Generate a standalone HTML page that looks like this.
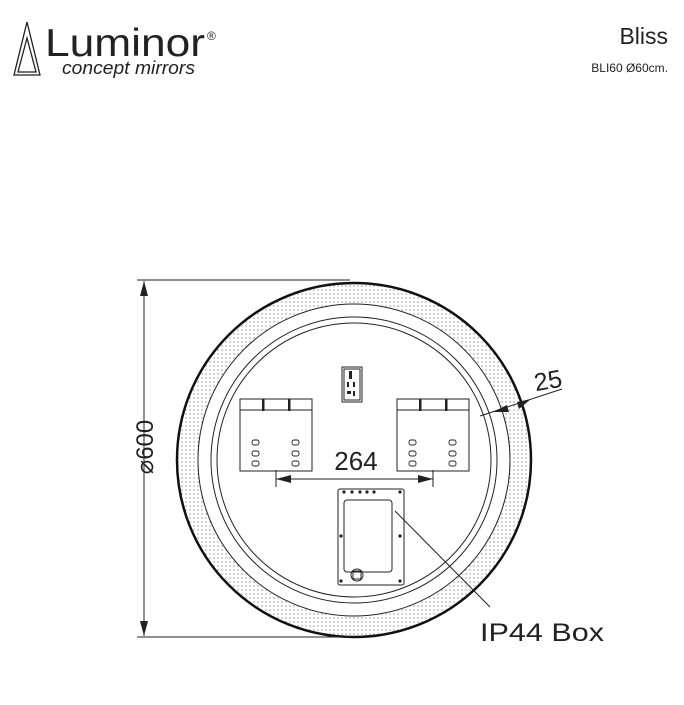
<!DOCTYPE html>
<html><head><style>
body{margin:0;background:#fff;width:684px;height:700px;overflow:hidden}
</style></head><body>
<svg width="684" height="700" xmlns="http://www.w3.org/2000/svg" font-family="Liberation Sans, sans-serif">
<defs>
<pattern id="dots" width="4" height="4" patternUnits="userSpaceOnUse"><circle cx="2" cy="2" r="0.6" fill="#666"/></pattern>
</defs>
<!-- header -->
<g fill="none" stroke="#222" stroke-width="1.3">
<polygon points="27,22 14,75 40,75"/>
<polygon points="27,38 18,72 36,72"/>
</g>
<text x="45" y="56" font-size="39" fill="#222" textLength="160" lengthAdjust="spacingAndGlyphs">Luminor</text>
<text x="207" y="40" font-size="12" fill="#222">®</text>
<text x="62" y="74" font-size="18" font-style="italic" fill="#222" textLength="133" lengthAdjust="spacingAndGlyphs">concept mirrors</text>
<text x="668" y="44" font-size="23" text-anchor="end" fill="#222">Bliss</text>
<text x="668" y="72" font-size="12" text-anchor="end" fill="#222">BLI60 Ø60cm.</text>
<!-- mirror -->
<circle cx="354" cy="460" r="166.5" fill="none" stroke="url(#dots)" stroke-width="21"/>
<circle cx="354" cy="460" r="177" fill="none" stroke="#111" stroke-width="2.5"/>
<circle cx="354" cy="460" r="156" fill="none" stroke="#222" stroke-width="1"/>
<circle cx="354" cy="460" r="143" fill="none" stroke="#222" stroke-width="1"/>
<circle cx="354" cy="460" r="137" fill="none" stroke="#222" stroke-width="1"/>
<!-- dimension 600 -->
<g stroke="#222" stroke-width="1">
<line x1="137" y1="280" x2="350" y2="280"/>
<line x1="137" y1="637" x2="350" y2="637"/>
<line x1="144" y1="281" x2="144" y2="636"/>
</g>
<polygon points="144,281 140,296 148,296" fill="#222"/>
<polygon points="144,636 140,621 148,621" fill="#222"/>
<text transform="translate(153,447) rotate(-90)" font-size="24" text-anchor="middle" fill="#222">⌀600</text>
<!-- brackets -->
<g fill="none" stroke="#222" stroke-width="1">
<rect x="240" y="399" width="72" height="72"/>
<line x1="240" y1="410" x2="312" y2="410"/>
<rect x="397" y="399" width="72" height="72"/>
<line x1="397" y1="410" x2="469" y2="410"/>
<rect x="342" y="367" width="20" height="35"/>
<rect x="344" y="369" width="16" height="31"/>
<rect x="338" y="489" width="66" height="96" rx="2"/>
<rect x="344" y="500" width="48" height="72" rx="3"/>
<rect x="353" y="571" width="8" height="8"/>
<circle cx="357" cy="575" r="6"/>
</g>
<g fill="#222">
<rect x="262" y="399" width="2.5" height="12"/><rect x="288" y="399" width="2.5" height="12"/>
<rect x="419" y="399" width="2.5" height="12"/><rect x="445" y="399" width="2.5" height="12"/>
<rect x="349" y="371" width="3" height="8"/><rect x="347" y="382" width="2" height="5"/><rect x="353" y="382" width="2" height="5"/><rect x="347" y="391" width="4" height="3"/><rect x="353" y="391" width="2" height="5"/>
<circle cx="344" cy="492" r="1.6"/><circle cx="352" cy="492" r="1.6"/><circle cx="360" cy="492" r="1.6"/><circle cx="367" cy="492" r="1.6"/><circle cx="374" cy="492" r="1.6"/><circle cx="400" cy="492" r="1.6"/>
<circle cx="341" cy="536" r="1.6"/><circle cx="400" cy="536" r="1.6"/><circle cx="341" cy="581" r="1.6"/><circle cx="400" cy="581" r="1.6"/>
</g>
<g fill="none" stroke="#222" stroke-width="0.9">
<rect x="252" y="440" width="7" height="5" rx="2"/><rect x="252" y="451" width="7" height="5" rx="2"/><rect x="252" y="461" width="7" height="5" rx="2"/>
<rect x="292" y="440" width="7" height="5" rx="2"/><rect x="292" y="451" width="7" height="5" rx="2"/><rect x="292" y="461" width="7" height="5" rx="2"/>
<rect x="409" y="440" width="7" height="5" rx="2"/><rect x="409" y="451" width="7" height="5" rx="2"/><rect x="409" y="461" width="7" height="5" rx="2"/>
<rect x="449" y="440" width="7" height="5" rx="2"/><rect x="449" y="451" width="7" height="5" rx="2"/><rect x="449" y="461" width="7" height="5" rx="2"/>
</g>
<!-- 264 dimension -->
<g stroke="#222" stroke-width="1">
<line x1="276" y1="470" x2="276" y2="487"/>
<line x1="433" y1="470" x2="433" y2="487"/>
<line x1="276" y1="479" x2="433" y2="479"/>
</g>
<polygon points="276,479 291,475 291,483" fill="#222"/>
<polygon points="433,479 418,475 418,483" fill="#222"/>
<text x="356" y="470" font-size="26" text-anchor="middle" fill="#222">264</text>
<!-- 25 -->
<line x1="480" y1="416" x2="562" y2="389" stroke="#222" stroke-width="1"/>
<polygon points="493,412 507,405 509,412" fill="#222"/>
<polygon points="531,399 517,402 519,409" fill="#222"/>
<text x="534" y="389" font-size="25" fill="#222" transform="rotate(-10 548 380)">25</text>
<!-- IP44 -->
<line x1="395" y1="511" x2="490" y2="607" stroke="#222" stroke-width="1"/>
<text x="480" y="641" font-size="25" fill="#222" textLength="124" lengthAdjust="spacingAndGlyphs">IP44  Box</text>
</svg>
</body></html>
